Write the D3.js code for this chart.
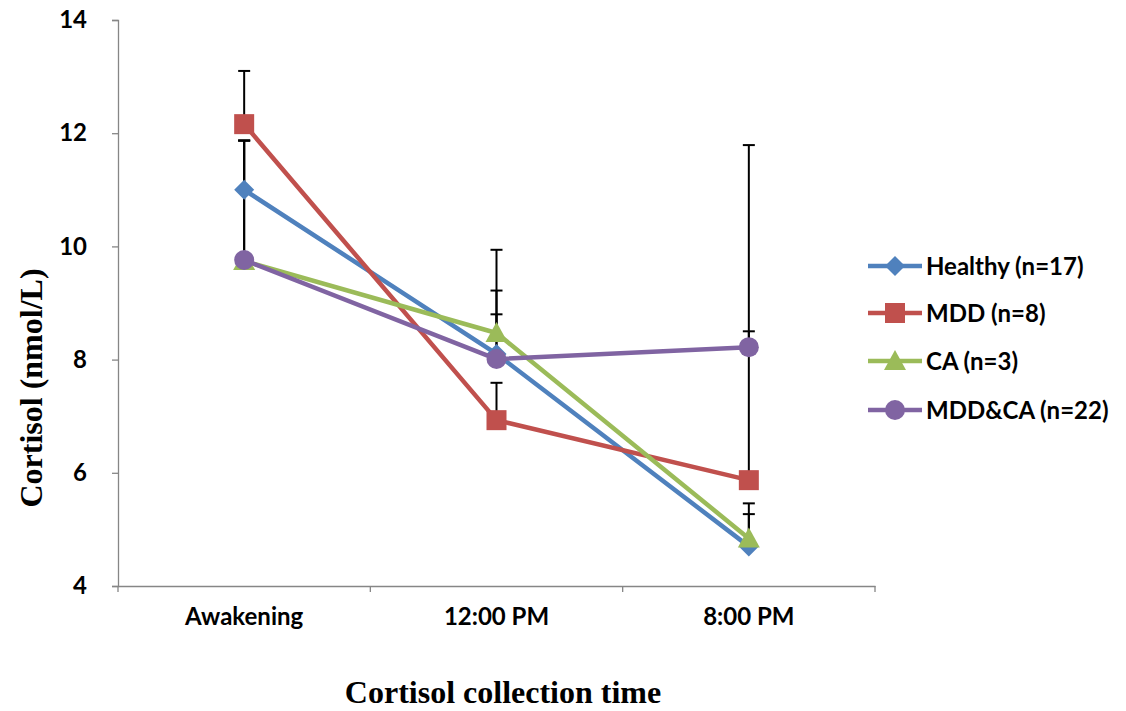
<!DOCTYPE html>
<html><head><meta charset="utf-8">
<script src="https://cdn.jsdelivr.net/npm/d3@7"></script>
<style>body{margin:0;background:#fff}svg{display:block}</style>
</head><body><svg id="c" width="1126" height="711"></svg>
<script>
const categories = ["Awakening", "12:00 PM", "8:00 PM"];
const seriesNames = ["Healthy (n=17)", "MDD (n=8)", "CA (n=3)", "MDD&CA (n=22)"];
const healthy = [11.0, 8.1, 4.7];
const mdd = [12.16, 6.93, 5.87];
const ca = [9.74, 8.47, 4.84];
const mddca = [9.76, 8.01, 8.22];
const healthyErr = [0.87, 0.70, 0.57];
const mddErr = [0.94, 0.66, 2.63];
const caErr = [2.13, 1.47, 0.62];
const mddcaErr = [2.11, 1.21, 3.57];
const yTicks = [4, 6, 8, 10, 12, 14];
const colors = ["#4F81BD", "#C0504D", "#9BBB59", "#8064A2"];
const shapes = ["diamond", "square", "triangle", "circle"];

const series = [healthy, mdd, ca, mddca].map((v, i) => ({
  name: seriesNames[i], values: v,
  err: [healthyErr, mddErr, caErr, mddcaErr][i],
  color: colors[i], shape: shapes[i]
}));

const svg = d3.select("#c");
const L = 118, R = 875, T = 20, B = 586;
const x = d3.scaleBand().domain(categories).range([L, R]);
const y = d3.scaleLinear().domain([4, 14]).range([B, T]);
const cx = c => x(c) + x.bandwidth() / 2;
const font = "'Lato','Open Sans',sans-serif";
const serif = "'Liberation Serif','Times New Roman',serif";

// y axis
const ya = svg.append("g").attr("transform", `translate(${L},0)`)
  .call(d3.axisLeft(y).tickValues(yTicks).tickSize(6).tickPadding(25).tickFormat(d3.format("d")));
ya.select(".domain").attr("stroke", "#868686").attr("stroke-width", 1.3);
ya.selectAll(".tick line").attr("stroke", "#868686").attr("stroke-width", 1.3);
ya.selectAll(".tick text").attr("font-family", font).attr("font-weight", "bold")
  .attr("font-size", 24).attr("fill", "#000");

// x axis
const xa = svg.append("g").attr("transform", `translate(0,${B})`)
  .call(d3.axisBottom(x).tickSize(0).tickPadding(22));
xa.select(".domain").attr("stroke", "#868686").attr("stroke-width", 1.3);
xa.selectAll(".tick text").attr("font-family", font).attr("font-weight", "bold")
  .attr("font-size", 24).attr("fill", "#000");
const bounds = [L].concat(categories.map(c => x(c) + x.bandwidth()));
svg.append("g").selectAll("line").data(bounds).join("line")
  .attr("x1", d => d).attr("x2", d => d).attr("y1", B).attr("y2", B + 6)
  .attr("stroke", "#868686").attr("stroke-width", 1.3);

// titles
svg.append("text").attr("transform", `translate(42,388) rotate(-90)`)
  .attr("text-anchor", "middle").attr("font-family", serif)
  .attr("font-weight", "bold").attr("font-size", 32).text("Cortisol (nmol/L)");
svg.append("text").attr("x", 503).attr("y", 703)
  .attr("text-anchor", "middle").attr("font-family", serif)
  .attr("font-weight", "bold").attr("font-size", 32).text("Cortisol collection time");

// error bars
const eg = svg.append("g");
series.forEach(s => {
  s.values.forEach((v, i) => {
    const px = cx(categories[i]);
    eg.append("line").attr("x1", px).attr("x2", px).attr("y1", y(v)).attr("y2", y(v + s.err[i]))
      .attr("stroke", "#000").attr("stroke-width", 2);
    eg.append("line").attr("x1", px - 6).attr("x2", px + 6).attr("y1", y(v + s.err[i])).attr("y2", y(v + s.err[i]))
      .attr("stroke", "#000").attr("stroke-width", 2);
  });
});

function marker(g, shape, color, px, py) {
  if (shape === "diamond") {
    g.append("path").attr("d", `M${px},${py-10}L${px+10},${py}L${px},${py+10}L${px-10},${py}Z`).attr("fill", color);
  } else if (shape === "square") {
    g.append("rect").attr("x", px - 10).attr("y", py - 10).attr("width", 20).attr("height", 20).attr("fill", color);
  } else if (shape === "triangle") {
    g.append("path").attr("d", `M${px},${py-11}L${px+11},${py+9}L${px-11},${py+9}Z`).attr("fill", color);
  } else {
    g.append("circle").attr("cx", px).attr("cy", py).attr("r", 10).attr("fill", color);
  }
}

const line = d3.line().x((d, i) => cx(categories[i])).y(d => y(d));
series.forEach(s => {
  const g = svg.append("g");
  g.append("path").attr("d", line(s.values)).attr("fill", "none")
    .attr("stroke", s.color).attr("stroke-width", 4.5).attr("stroke-linejoin", "round");
  s.values.forEach((v, i) => marker(g, s.shape, s.color, cx(categories[i]), y(v)));
});

// legend
const lg = svg.append("g");
const ly = [266, 313, 361, 410];
series.forEach((s, i) => {
  lg.append("line").attr("x1", 868).attr("x2", 922).attr("y1", ly[i]).attr("y2", ly[i])
    .attr("stroke", s.color).attr("stroke-width", 4.5);
  marker(lg, s.shape, s.color, 895, ly[i]);
  lg.append("text").attr("x", 926).attr("y", ly[i] + 9).attr("font-family", font)
    .attr("font-weight", "bold").attr("font-size", 24).text(s.name);
});
</script></body></html>
